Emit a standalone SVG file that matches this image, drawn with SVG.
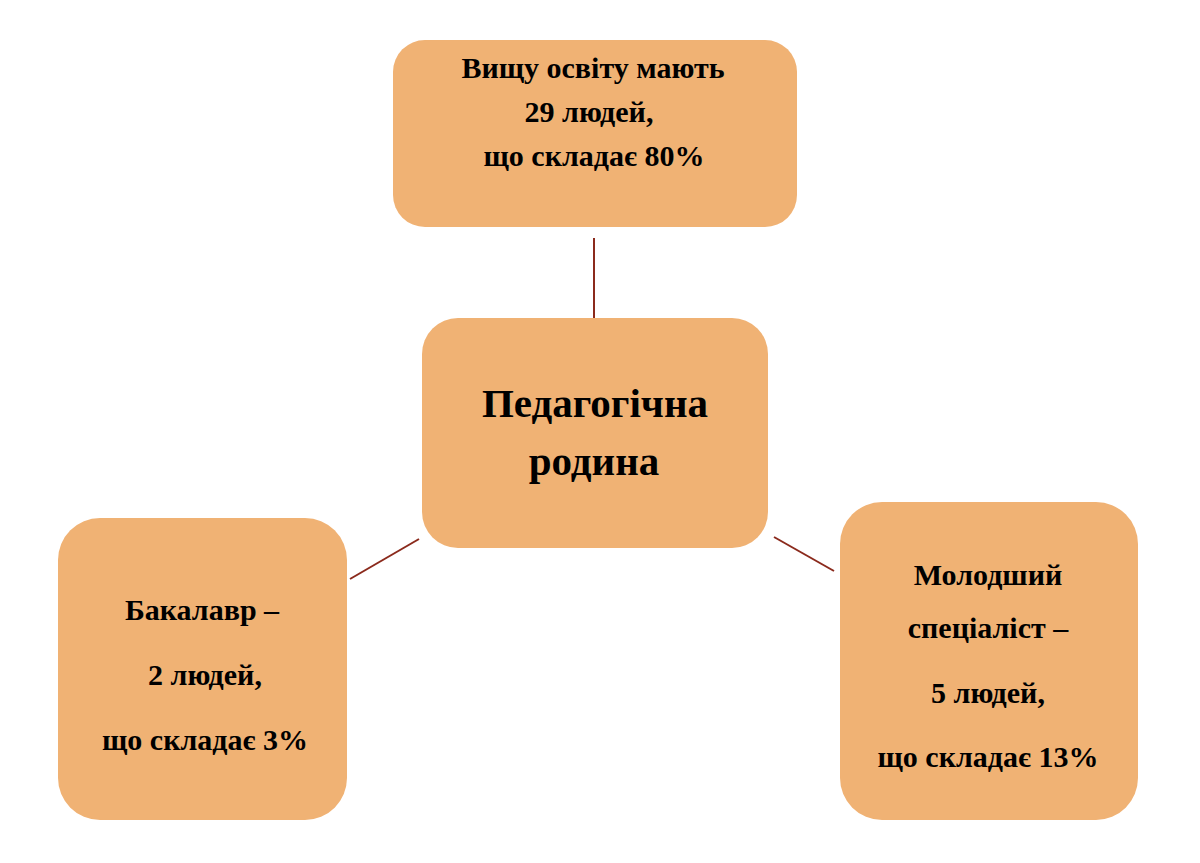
<svg xmlns="http://www.w3.org/2000/svg" width="1200" height="863" viewBox="0 0 1200 863">
<style>
.box{fill:#F0B274;}
.t{font-family:"Liberation Serif","Times New Roman",serif;font-weight:bold;fill:#000;text-anchor:middle;font-size:30px;}
.big{font-size:41px;}
.c{stroke:#8B2A1C;stroke-width:2;fill:none;}
</style>
<rect width="1200" height="863" fill="#fff"/>
<g id="connectors">
<line class="c" x1="594" y1="238" x2="594" y2="318"/>
<line class="c" x1="419" y1="539" x2="350" y2="579"/>
<line class="c" x1="774" y1="537" x2="834" y2="571"/>
</g>
<g id="top">
<rect class="box" x="393" y="40" width="404" height="187" rx="32"/>
<text class="t" x="593" y="78">Вищу освіту мають</text>
<text class="t" x="589" y="122">29 людей,</text>
<text class="t" x="594" y="166">що складає 80%</text>
</g>
<g id="center">
<rect class="box" x="422" y="318" width="346" height="230" rx="36"/>
<text class="t big" x="595" y="417">Педагогічна</text>
<text class="t big" x="594" y="475">родина</text>
</g>
<g id="left">
<rect class="box" x="58" y="518" width="289" height="302" rx="42"/>
<text class="t" x="202" y="620">Бакалавр –</text>
<text class="t" x="205" y="685">2 людей,</text>
<text class="t" x="205" y="750">що складає 3%</text>
</g>
<g id="right">
<rect class="box" x="840" y="502" width="298" height="318" rx="42"/>
<text class="t" x="988" y="585">Молодший</text>
<text class="t" x="988" y="638">спеціаліст –</text>
<text class="t" x="988" y="703">5 людей,</text>
<text class="t" x="988" y="767">що складає 13%</text>
</g>
</svg>
